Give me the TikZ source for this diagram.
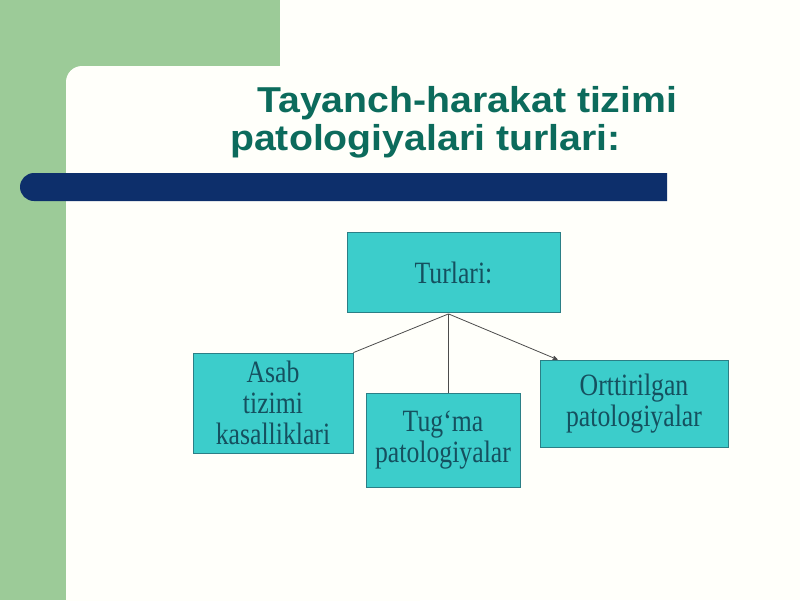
\documentclass[tikz,border=0pt]{standalone}
\usepackage{fontspec}
\usetikzlibrary{arrows}
\setmainfont{Liberation Serif}
\newfontfamily\titlefont[FakeStretch=1.09]{Liberation Sans}
\newfontfamily\boxfont[FakeStretch=0.83]{Liberation Serif}
\definecolor{sidegreen}{HTML}{9CCB98}
\definecolor{paper}{HTML}{FFFFFA}
\definecolor{barblue}{HTML}{0D2F6B}
\definecolor{titlegreen}{HTML}{0C6B5C}
\definecolor{boxfill}{HTML}{3CCDCB}
\definecolor{boxline}{HTML}{2B7F86}
\definecolor{boxtext}{HTML}{15505F}

\begin{document}
\begin{tikzpicture}[x=1pt,y=-1pt,->,>=stealth',
  box/.style={draw=boxline,fill=boxfill,text=boxtext,line width=0.8pt,
    align=center,inner sep=0pt,font=\boxfont\fontsize{31}{31}\selectfont}]
 \useasboundingbox (0,0) rectangle (800,600);
 \clip (0,0) rectangle (800,600);

 % background: green corner and white sheet
 \fill[paper] (0,0) rectangle (800,600);
 \fill[sidegreen] (0,0) rectangle (280,100);
 \fill[sidegreen] (0,0) rectangle (66,600);
 \fill[paper,rounded corners=16pt] (66,66) rectangle (420,640);

 % title and bar
 \node[anchor=north west,inner sep=0pt,align=left,text=titlegreen,
   font=\titlefont\bfseries\fontsize{36}{38}\selectfont] (title) at (230,86)
   {\hspace*{27pt}Tayanch-harakat tizimi\\patologiyalari turlari:};
 \fill[barblue] (667,173) -- (34,173) arc[start angle=90,end angle=270,radius=14pt]
   -- (667,201) -- cycle;

 % 4 boxes
 \node[box,minimum width=213pt,minimum height=80pt] (turlari) at (453.5,272.5) {Turlari:};
 \node[box,minimum width=160pt,minimum height=100pt] (asab) at (273,403) {Asab\\tizimi\\kasalliklari};
 \node[box,minimum width=154pt,minimum height=94pt] (tugma) at (443,440) {Tug‘ma\\patologiyalar};
 \node[box,minimum width=188pt,minimum height=87pt] (orttir) at (634,403.5) {Orttirilgan\\patologiyalar};

 % connectors from one point under the top box
 \coordinate (fork) at ([xshift=-5pt,yshift=-1pt]turlari.south);
 \draw[-,draw=black!70,line width=0.8pt] (fork) -- (asab.north east);
 \draw[-,draw=black!70,line width=0.8pt] (fork) -- (fork |- tugma.north);
 \draw[draw=black!70,line width=0.8pt] (fork) -- ([xshift=18pt]orttir.north west);
\end{tikzpicture}
\end{document}
